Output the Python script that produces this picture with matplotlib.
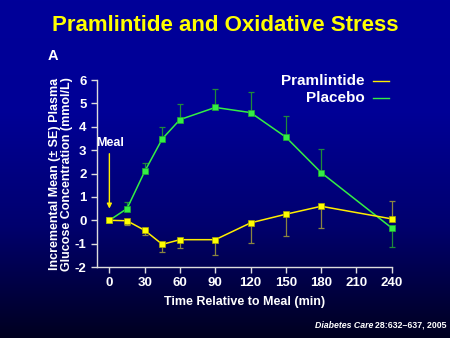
import numpy as np
import matplotlib.pyplot as plt
from matplotlib.colors import LinearSegmentedColormap

plt.rcParams['font.family'] = ['Liberation Sans', 'DejaVu Sans']

# data
minutes = [0, 15, 30, 45, 60, 90, 120, 150, 180, 240]
placebo = [0.0, 0.5, 2.09, 3.49, 4.31, 4.83, 4.61, 3.56, 2.04, -0.33]
placebo_se = [0.0, 0.29, 0.38, 0.5, 0.65, 0.8, 0.89, 0.91, 0.99, 0.83]
placebo_up = [True, True, True, True, True, True, True, True, True, False]
pram = [0.0, -0.02, -0.43, -1.03, -0.83, -0.83, -0.11, 0.26, 0.6, 0.06]
pram_se = [0.0, 0.18, 0.21, 0.34, 0.34, 0.67, 0.86, 0.93, 0.93, 0.75]
pram_up = [False, False, False, False, False, False, False, False, False, True]
xticks = [0, 30, 60, 90, 120, 150, 180, 210, 240]
yticks = [-2, -1, 0, 1, 2, 3, 4, 5, 6]


def split_err(se, up):
    lo = [0 if u else e for e, u in zip(se, up)]
    hi = [e if u else 0 for e, u in zip(se, up)]
    return [lo, hi]


fig = plt.figure(figsize=(4.5, 3.38), dpi=100)

# background gradient
bg = fig.add_axes([0, 0, 1, 1])
grad = np.linspace(0, 1, 256).reshape(-1, 1)
cmap = LinearSegmentedColormap.from_list('bg', ['#000099', '#000096', '#00006e', '#000020'])
bg.imshow(grad, aspect='auto', cmap=cmap, extent=[0, 1, 0, 1])
bg.axis('off')

ax = fig.add_axes([0.2156, 0.21, 0.655, 0.553])
ax.set_facecolor('none')

for data, se, up, col in [(placebo, placebo_se, placebo_up, '#1f8a3a'),
                          (pram, pram_se, pram_up, '#8a8540')]:
    eb = ax.errorbar(minutes, data, yerr=split_err(se, up), fmt='none',
                     ecolor=col, elinewidth=0.9, capsize=2.5, capthick=0.9, zorder=2)
    for art in eb.lines[1] + eb.lines[2]:
        art.set_clip_on(False)

ax.plot(minutes, placebo, color='#33ee44', lw=1.1, marker='s', ms=4.5,
        mfc='#33ee44', mec='#22aa33', mew=0.5, zorder=3, clip_on=False)
ax.plot(minutes, pram, color='#ffee00', lw=1.1, marker='s', ms=4.5,
        mfc='#ffff00', mec='#aaaa00', mew=0.5, zorder=4, clip_on=False)

# legend-like labels with line after text
lx0, lx1 = 0.936, 0.99
for ly, lab, col in [(0.995, 'Pramlintide', '#ffee00'), (0.905, 'Placebo', '#33ee44')]:
    ax.text(0.908, ly, lab, transform=ax.transAxes, color='white',
            fontsize=11, fontweight='bold', ha='right', va='center')
    ax.plot([lx0, lx1], [ly, ly], transform=ax.transAxes, color=col, lw=1.0,
            clip_on=False)

# meal arrow
ax.annotate('', xy=(0, 0.5), xytext=(0, 2.85),
            arrowprops=dict(arrowstyle='-|>', color='#ffee00', lw=1.0,
                            mutation_scale=7, shrinkA=0, shrinkB=0))
ax.text(0.8, 3.3, 'Meal', color='white', fontsize=9, fontweight='bold',
        ha='center', va='center')

ax.set_xlim(-10.5, 240)
ax.set_ylim(-2, 6)
ax.set_xticks(xticks)
ax.set_yticks(yticks, [str(t) for t in yticks])
for s in ['top', 'right']:
    ax.spines[s].set_visible(False)
for s in ['left', 'bottom']:
    ax.spines[s].set_color('#dddddd')
    ax.spines[s].set_linewidth(1.0)
ax.tick_params(colors='#dddddd', length=4, width=1.0, labelcolor='white', labelsize=9.5)
for lab in ax.get_xticklabels() + ax.get_yticklabels():
    lab.set_fontweight('bold')

ax.set_xlabel('Time Relative to Meal (min)', color='white', fontsize=9,
              fontweight='bold', labelpad=5)
ax.set_ylabel('Incremental Mean (± SE) Plasma\nGlucose Concentration (mmol/L)',
              color='white', fontsize=9, fontweight='bold',
              linespacing=1.0)
ax.yaxis.set_label_coords(-0.08, 0.5)

fig.text(0.5, 0.925, 'Pramlintide and Oxidative Stress', color='#ffff00',
         fontsize=16, fontweight='bold', ha='center', va='center')
fig.text(0.118, 0.834, 'A', color='white', fontsize=10.5, fontweight='bold',
         ha='center', va='center')
fig.text(0.829, 0.038, 'Diabetes Care', color='white', fontsize=6.3,
         fontstyle='italic', fontweight='bold', ha='right', va='center')
fig.text(0.833, 0.038, '28:632–637, 2005', color='white', fontsize=6.3,
         fontweight='bold', ha='left', va='center')

fig.savefig('out.png', dpi=100)
